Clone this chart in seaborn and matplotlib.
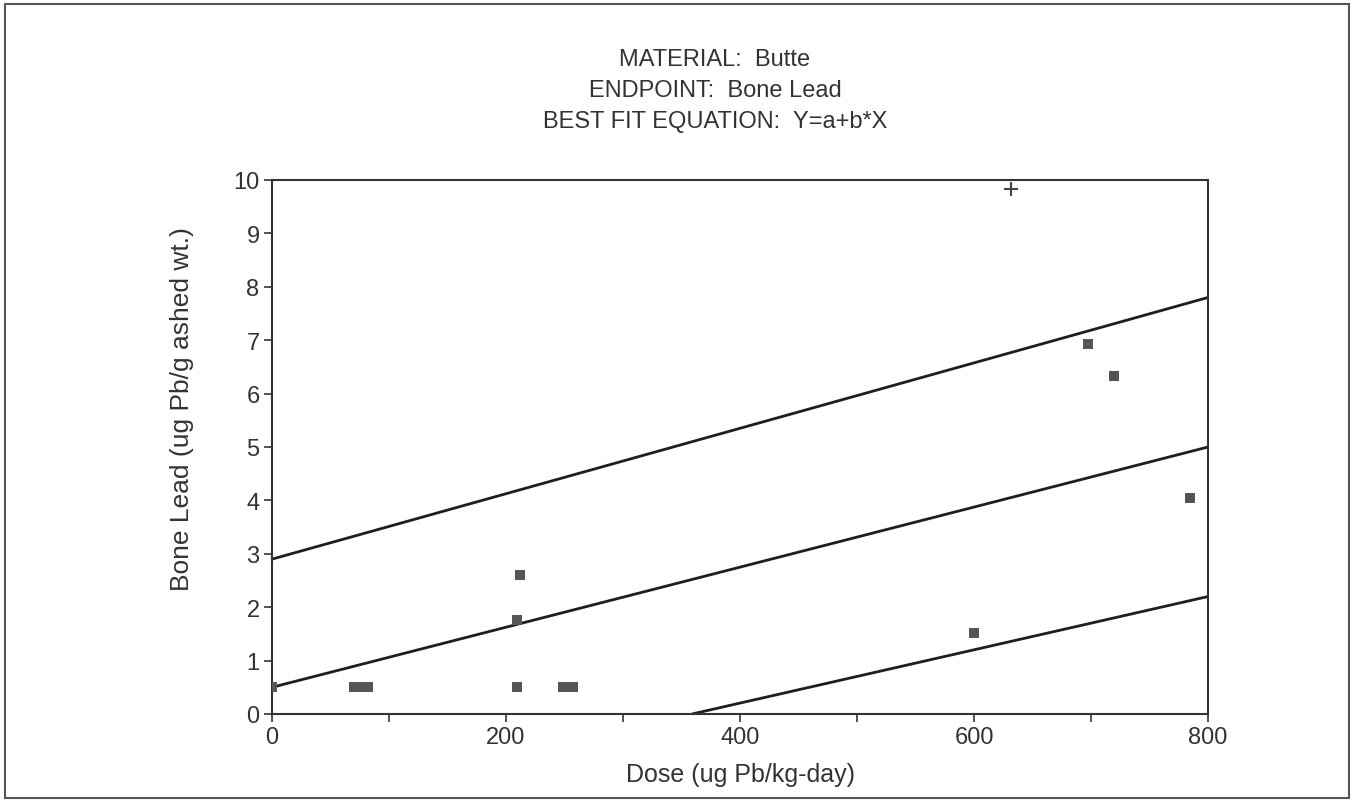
import numpy as np
import pandas as pd
import matplotlib
matplotlib.use("Agg")
import matplotlib.pyplot as plt
import seaborn as sns

sns.set_style("ticks")
plt.rcParams['font.family'] = ['Liberation Sans', 'DejaVu Sans']

# observed points (dose, bone lead)
dose = [0, 70, 76, 82, 209, 209, 212, 249, 257, 600, 697, 720, 785]
bone_lead = [0.5, 0.5, 0.5, 0.5, 0.5, 1.76, 2.6, 0.5, 0.5, 1.52, 6.93, 6.33, 4.04]

# excluded point (plotted as +)
out_dose = [632]
out_lead = [9.83]

# fitted line and bounds, end points
fit_x = [0, 800]
fit_y = [0.5, 5.0]
upper_x = [0, 800]
upper_y = [2.9, 7.8]
lower_x = [359, 800]
lower_y = [0.0, 2.2]

x_ticks = [0, 200, 400, 600, 800]
y_ticks = list(range(0, 11))

fig = plt.figure(figsize=(13.54, 8.04), dpi=100)
ax = fig.add_axes([0.2009, 0.1107, 0.6913, 0.6642])

line_col = '#1e1e1e'
for xs, ys in [(fit_x, fit_y), (upper_x, upper_y), (lower_x, lower_y)]:
    sns.lineplot(x=xs, y=ys, ax=ax, color=line_col, lw=2.0)

pts = pd.DataFrame({'dose': dose, 'lead': bone_lead})
sns.scatterplot(data=pts, x='dose', y='lead', ax=ax, marker='s', s=55,
                color='#555555', edgecolor='#555555', linewidth=0, zorder=5)
sns.scatterplot(x=out_dose, y=out_lead, ax=ax, marker='+', s=110,
                color='#444444', linewidth=1.5, zorder=5)

ax.set_xlim(0, 800)
ax.set_ylim(0, 10)
ax.set_xticks(x_ticks)
ax.set_xticks(np.arange(0, 801, 100), minor=True)
ax.set_yticks(y_ticks)
ax.tick_params(axis='both', which='both', direction='out', length=6,
               width=1.2, color='#333333', labelsize=17, labelcolor='#333333', pad=3)
for sp in ax.spines.values():
    sp.set_color('#333333')
    sp.set_linewidth(1.5)

ax.set_xlabel('Dose (ug Pb/kg-day)', fontsize=18, color='#333333', labelpad=10)
ax.set_ylabel('Bone Lead (ug Pb/g ashed wt.)', fontsize=19, color='#333333')
ax.yaxis.set_label_coords(-0.083, 0.573)

fig.text(0.528, 0.925, 'MATERIAL:  Butte', ha='center', va='center', fontsize=17, color='#333333')
fig.text(0.528, 0.887, 'ENDPOINT:  Bone Lead', ha='center', va='center', fontsize=17, color='#333333')
fig.text(0.528, 0.848, 'BEST FIT EQUATION:  Y=a+b*X', ha='center', va='center', fontsize=17, color='#333333')

fig.add_artist(plt.Rectangle((0.004, 0.006), 0.992, 0.988, transform=fig.transFigure,
                             fill=False, ec='#555555', lw=1.5))

fig.savefig('out.png', dpi=100)
